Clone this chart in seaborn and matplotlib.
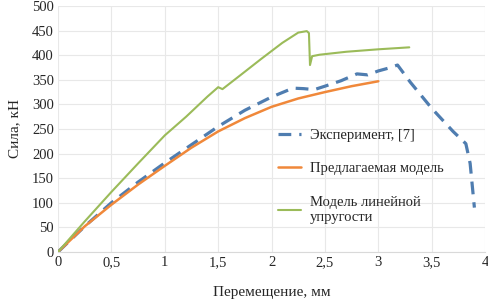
import matplotlib.pyplot as plt
import pandas as pd
import seaborn as sns

# experiment, [7]
exp_x = [0, 0.25, 0.5, 0.75, 1.0, 1.25, 1.5, 1.75, 2.0, 2.2, 2.3, 2.4, 2.5, 2.65, 2.8, 2.9, 3.0, 3.1, 3.18, 3.3, 3.5, 3.7, 3.82, 3.86, 3.9]
exp_y = [0, 52, 100, 142, 181, 218, 255, 288, 315, 333, 332, 330, 337, 348, 362, 360, 368, 374, 380, 345, 292, 245, 220, 180, 90]

# proposed model
mod_x = [0, 0.25, 0.5, 0.75, 1.0, 1.25, 1.5, 1.75, 2.0, 2.25, 2.5, 2.75, 3.0]
mod_y = [0, 52, 96, 137, 175, 212, 245, 272, 295, 312, 325, 337, 347]

# linear elasticity model
lin_x = [0, 0.25, 0.5, 0.75, 1.0, 1.2, 1.4, 1.5, 1.54, 1.7, 1.9, 2.1, 2.25, 2.33, 2.35, 2.36, 2.38, 2.45, 2.7, 3.0, 3.29]
lin_y = [0, 62, 122, 180, 237, 275, 316, 335, 331, 358, 392, 425, 446, 449, 445, 380, 398, 401, 407, 412, 416]

sns.set_style("whitegrid")
plt.rcParams["font.family"] = ["Liberation Serif", "DejaVu Serif"]

fig = plt.figure(figsize=(4.88, 3.02), dpi=100)
ax = fig.add_axes([0.119, 0.166, 0.875, 0.814])

df_exp = pd.DataFrame({"x": exp_x, "y": exp_y})
df_mod = pd.DataFrame({"x": mod_x, "y": mod_y})
df_lin = pd.DataFrame({"x": lin_x, "y": lin_y})

sns.lineplot(df_exp, x="x", y="y", ax=ax, color="#4F7DB0", lw=2.3,
             label="Эксперимент, [7]", sort=False)
ax.lines[-1].set_dashes([4, 2.5])
sns.lineplot(df_mod, x="x", y="y", ax=ax, color="#F0883A", lw=1.8,
             label="Предлагаемая модель", sort=False)
sns.lineplot(df_lin, x="x", y="y", ax=ax, color="#9BBB59", lw=1.5,
             label="Модель линейной\nупругости", sort=False)

ax.set_xlim(0, 4)
ax.set_ylim(0, 500)
ax.set_xticks([0, 0.5, 1, 1.5, 2, 2.5, 3, 3.5, 4])
ax.set_xticklabels(["0", "0,5", "1", "1,5", "2", "2,5", "3", "3,5", "4"])
ax.set_yticks(range(0, 501, 50))
ax.tick_params(labelsize=10.5, pad=3, length=0)
ax.grid(color="#E8E8E8", lw=0.8)
for s in ["top", "right", "left"]:
    ax.spines[s].set_visible(False)
ax.spines["bottom"].set_color("#D9D9D9")
ax.set_xlabel("Перемещение, мм", fontsize=11, labelpad=12)
ax.set_ylabel("Сила, кН", fontsize=11, labelpad=8)

ax.legend(loc="upper left", bbox_to_anchor=(0.484, 0.555), frameon=False,
          fontsize=10.5, labelspacing=1.4, handlelength=1.6, handletextpad=0.6)

fig.savefig("out.png")
